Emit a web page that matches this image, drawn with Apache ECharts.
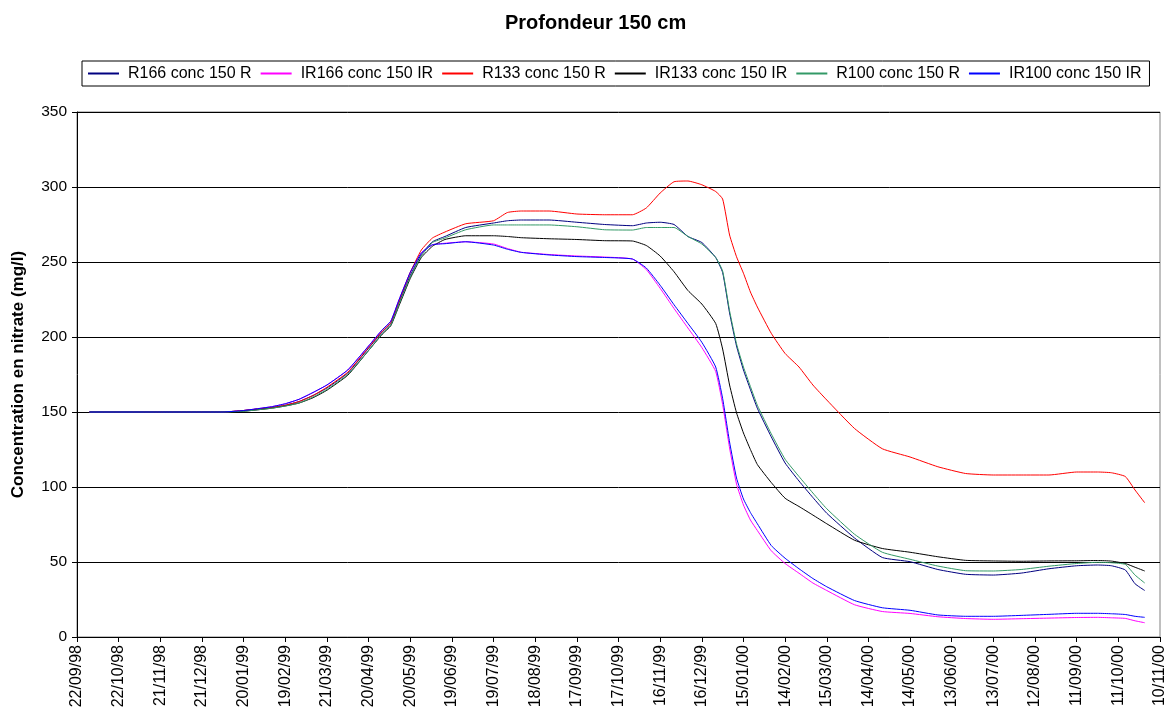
<!DOCTYPE html>
<html>
<head>
<meta charset="utf-8">
<script src="https://cdn.jsdelivr.net/npm/echarts@6/dist/echarts.min.js"></script>
<style>
html,body{margin:0;padding:0;background:#fff;}
#chart{width:1168px;height:715px;}
</style>
</head>
<body>
<div id="chart"></div>
<script>
// Day offsets from 22/09/98 (x axis)
const days = [9, 60, 105, 120, 140, 150, 160, 170, 180, 195, 210, 220, 226, 232, 240, 248, 256, 265, 280, 300,
  310, 320, 340, 360, 380, 400, 410, 420, 430, 440, 450, 460, 465, 470, 475, 480, 485, 490, 500, 510,
  520, 530, 540, 560, 580, 600, 620, 640, 660, 680, 700, 720, 735, 745, 755, 762, 769];

// Tick labels, one every 30 days starting 22/09/98
const tickLabels = ['22/09/98','22/10/98','21/11/98','21/12/98','20/01/99','19/02/99','21/03/99','20/04/99',
  '20/05/99','19/06/99','19/07/99','18/08/99','17/09/99','17/10/99','16/11/99','16/12/99','15/01/00',
  '14/02/00','15/03/00','14/04/00','14/05/00','13/06/00','13/07/00','12/08/00','11/09/00','11/10/00','10/11/00'];

const seriesNames = ['R166 conc 150 R','IR166 conc 150 IR','R133 conc 150 R','IR133 conc 150 IR','R100 conc 150 R','IR100 conc 150 IR'];

const r166 = [150,150,150,151,153,154.5,157,161,166,176,192.5,203.5,209,223,241,255,263.5,267,273,276,
  277.5,278,278,276.5,275,274.2,276,276.5,275,267,263,253,243,216,194,178,165,152.5,133.5,116,
  104,93,82.5,66,53,50.2,45,41.8,41.3,42.6,45.5,47.5,48,47.5,44.7,35.5,31];

const ir166 = [150,150,150,151,153.5,155.5,158.5,163,168,178,194,205,210.5,225,243,256,261.5,262.5,263.5,262,
  259,256.5,255,254,253.3,252,245,232.5,219,206,193,177,155,126,102,88,78,71,57.5,49,
  42.5,36,31,21.5,17,15.7,13.5,12.3,11.8,12.2,12.6,13,13.1,12.8,12.4,10.8,9.5];

const r133 = [150,150,150,151,153,154.5,157,161,166.5,176.5,193,204,209.5,224,243,258,266,270,275.5,277.5,
  283,284,284,282,281.5,281.5,286,296,303.5,304,301.5,297,292,268,253.5,242.5,230,220,202.5,189,
  180,168,158,139,125.5,120,113.5,109,108,108,108,110,110,109.5,107,98,89.5];

const ir133 = [150,150,150,150.5,152.5,154,156,159.5,164.5,174.5,191,202,207.5,221,239,253,260.5,265,267.5,267.5,
  267,266.2,265.5,265,264.2,264,261,254,243.5,231,222,209,192,168,149.5,136,125,115,103,92.5,
  87,81.3,75.5,64.5,59,56.5,53.5,51.1,50.7,50.5,50.7,50.8,51,50.6,49,46.5,44];

const r100 = [150,150,150,150.5,152.5,154,156,160,165,175,191,202.5,208,222,240,254,263,266,271.5,274.7,
  274.7,274.7,274.7,273.5,271.5,271.3,273,273,273,267,262,253,244,217.5,195.5,180,167,154.5,135.5,118.5,
  107,96,85.5,68.5,56.5,51.8,47.3,44.2,44,45,47.2,49,49.8,49.5,48.4,41.3,36];

const ir100 = [150,150,150,151,153.5,155.5,158.5,163,168,178,194,205,210.5,225,243,256,261.5,262.2,263.5,261.3,
  258.5,256.4,254.7,253.6,253,252,246,234.5,221.5,209,196.5,180,159,130,106,92,83,75.5,61,52.5,
  45.5,39,33.5,24.3,19.5,17.8,14.7,13.8,13.8,14.4,15.1,15.8,15.8,15.5,15,13.8,13.1];

const seriesValues = [r166, ir166, r133, ir133, r100, ir100];
const colors = ['#000080','#FF00FF','#FF0000','#000000','#339966','#0000FF'];

const FONT = 'Liberation Sans, Arial, sans-serif';
const chart = echarts.init(document.getElementById('chart'), null, {renderer: 'canvas'});

const option = {
  animation: false,
  backgroundColor: '#ffffff',
  title: {
    text: 'Profondeur 150 cm',
    left: 500, top: 8,
    textStyle: {fontFamily: FONT, fontSize: 20, fontWeight: 'bold', color: '#000'}
  },
  legend: {
    left: 82, top: 61,
    orient: 'horizontal',
    data: seriesNames.map((n, k) => ({name: n, icon: 'rect', itemStyle: {color: colors[k], borderWidth: 0}})),
    itemWidth: 31, itemHeight: 2, itemGap: 9,
    padding: [3, 8, 3, 6],
    borderColor: '#000', borderWidth: 1,
    textStyle: {fontFamily: FONT, fontSize: 16, color: '#000', padding: [0, 0, 0, 4], lineHeight: 19}
  },
  grid: {
    left: 77, right: 8, top: 112, bottom: 78,
    show: true, borderColor: '#808080', borderWidth: 1, backgroundColor: 'transparent'
  },
  xAxis: {
    type: 'value', min: 0, max: 780, interval: 30,
    axisLine: {show: true, lineStyle: {color: '#000', width: 1}},
    axisTick: {show: true, length: 5, lineStyle: {color: '#000'}},
    splitLine: {show: false},
    axisLabel: {
      rotate: 90, margin: 8, fontFamily: FONT, fontSize: 16, color: '#000',
      formatter: v => tickLabels[Math.round(v / 30)] || ''
    }
  },
  yAxis: {
    type: 'value', min: 0, max: 350, interval: 50,
    name: 'Concentration en nitrate (mg/l)',
    nameLocation: 'middle', nameRotate: 90, nameGap: 50,
    nameTextStyle: {fontFamily: FONT, fontSize: 17, fontWeight: 'bold', color: '#000'},
    axisLine: {show: true, lineStyle: {color: '#000', width: 1}},
    axisTick: {show: true, length: 5, lineStyle: {color: '#000'}},
    splitLine: {show: true, lineStyle: {color: '#000', width: 1}},
    axisLabel: {margin: 10, fontFamily: FONT, fontSize: 15.5, color: '#000'}
  },
  series: seriesNames.map((name, k) => ({
    name: name,
    type: 'line',
    data: days.map((d, i) => [d, seriesValues[k][i]]),
    showSymbol: false, symbol: 'none',
    smooth: 0.15,
    color: colors[k],
    lineStyle: {color: colors[k], width: 1},
    itemStyle: {color: colors[k]}
  }))
};
chart.setOption(option);
</script>
</body>
</html>
